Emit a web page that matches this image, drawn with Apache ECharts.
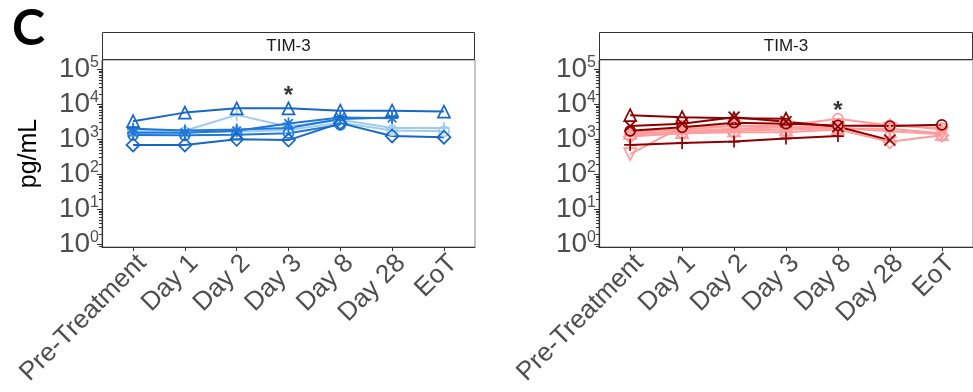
<!DOCTYPE html>
<html><head><meta charset="utf-8">
<script src="https://cdn.jsdelivr.net/npm/echarts@6/dist/echarts.min.js"></script>
<style>html,body{margin:0;padding:0;background:#fff}#c{width:973px;height:392px}</style>
</head><body><div id="c"></div>
<script>
// ---------- data ----------
const categories = ['Pre-Treatment', 'Day 1', 'Day 2', 'Day 3', 'Day 8', 'Day 28', 'EoT'];
const yTickValues = [1, 10, 100, 1000, 10000, 100000];
const panelTitle = 'TIM-3';
const yAxisTitle = 'pg/mL';
const panelLetter = 'C';

// left panel (blue), pg/mL
const blueTriangle    = [3300, 5800, 7700, 7700, 6600, 6600, 6200];
const blueDiamond     = [690, 690, 1000, 950, 2900, 1250, 1150];
const blueCircle      = [1330, 1300, 1350, 1500, 2600, null, null];
const blueStar        = [1550, 1550, 1750, 2850, 4200, 4000, null];
const bluePlus        = [2000, 1800, 1900, 2100, 3800, 4200, null];
const lightBluePlus   = [1900, 1750, 5000, 2300, 3600, 2100, 2100];
const lightBlueCircle = [1650, 1600, 1650, 1850, 3000, 1800, 1700];

// right panel (red), pg/mL
const redTriangle  = [4900, 4300, 4000, 3900, null, null, null];
const redCross     = [2400, 2800, 4300, 3200, 2300, 950, null];
const redCircle    = [1750, 2200, 3000, 2800, 2500, 2400, 2600];
const redPlus      = [690, 780, 860, 1060, 1240, null, null];
const pinkDown     = [380, 2300, 2400, 2200, 2000, 2000, 1500];
const pinkCircle   = [1650, 1900, 2400, 2500, 3900, 2500, 2100];
const pinkDiamond  = [1200, 1500, 1600, 1600, 1900, 850, 1300];
const pinkPlus     = [1350, 1700, 2000, 2200, 2300, 2700, 1900];
const pinkTriangle = [1500, 1600, 1800, 1900, 2100, 1700, 1400];

// significance marks: [category index, pg/mL]
const sigLeft  = [3, 17000];
const sigRight = [4, 6500];

// ---------- styling ----------
const Y_MIN = 0.837, Y_MAX = 185000;
const DARK_BLUE = '#1667c7', MID_BLUE = '#1f78d8', LIGHT_BLUE = '#9ccbf4';
const DARK_RED = '#8e0000', LIGHT_RED = '#ff9c9c';
const SYM = {
  circle:   {symbol: 'circle', size: 10},
  triangle: {symbol: 'triangle', size: 12},
  down:     {symbol: 'triangle', size: 12, rotate: 180},
  diamond:  {symbol: 'diamond', size: 13},
  plus:     {symbol: 'path://M0,5L10,5M5,0L5,10', size: 12},
  cross:    {symbol: 'path://M0,0L10,10M0,10L10,0', size: 11},
  star:     {symbol: 'path://M0,5L10,5M5,0L5,10M1.5,1.5L8.5,8.5M1.5,8.5L8.5,1.5', size: 12}
};
const leftSeries = [
  [lightBlueCircle, 'circle', LIGHT_BLUE],
  [lightBluePlus, 'plus', LIGHT_BLUE],
  [bluePlus, 'plus', MID_BLUE],
  [blueCircle, 'circle', MID_BLUE],
  [blueStar, 'star', MID_BLUE],
  [blueDiamond, 'diamond', DARK_BLUE],
  [blueTriangle, 'triangle', DARK_BLUE]
];
const rightSeries = [
  [pinkDown, 'down', LIGHT_RED],
  [pinkCircle, 'circle', LIGHT_RED],
  [pinkDiamond, 'diamond', LIGHT_RED],
  [pinkPlus, 'plus', LIGHT_RED],
  [pinkTriangle, 'triangle', LIGHT_RED],
  [redPlus, 'plus', DARK_RED],
  [redCircle, 'circle', DARK_RED],
  [redCross, 'cross', DARK_RED],
  [redTriangle, 'triangle', DARK_RED]
];

const FONT = '"Liberation Sans", Arial, sans-serif';
const AX = '#333333', TXT = '#4d4d4d';
const catIdx = categories.map((c, i) => i);
const minorLogs = [];
for (let d = -1; d <= 5; d++) for (let k = 2; k <= 9; k++) minorLogs.push(d + Math.log10(k));

const grids = [
  {left: 102, top: 60, width: 373, height: 187},
  {left: 599, top: 60, width: 374, height: 187}
];

function xAxisFor(g) {
  return {
    type: 'value', gridIndex: g, min: -0.6, max: 6.6,
    axisLine: {show: true, onZero: false, lineStyle: {color: AX, width: 1.2}},
    axisTick: {show: true, customValues: catIdx, length: 4, lineStyle: {color: AX, width: 1}},
    axisLabel: {customValues: catIdx, formatter: v => categories[Math.round(v)], rotate: 45,
      align: 'right', verticalAlign: 'top',
      fontSize: 26, color: TXT, fontFamily: FONT, margin: 3},
    splitLine: {show: false}
  };
}
function yLogFor(g) {
  const a = {
    type: 'log', logBase: 10, gridIndex: g, min: Y_MIN, max: Y_MAX, position: 'left',
    axisLine: {show: true, onZero: false, lineStyle: {color: AX, width: 1.2}},
    axisTick: {show: true, length: 5, lineStyle: {color: AX, width: 1}},
    axisLabel: {
      showMinLabel: false, showMaxLabel: false, margin: 3,
      formatter: v => '{b|10}{s|' + Math.round(Math.log10(v)) + '}',
      rich: {
        b: {fontSize: 28, color: TXT, fontFamily: FONT, lineHeight: 30},
        s: {fontSize: 16, color: TXT, fontFamily: FONT, verticalAlign: 'top', lineHeight: 30, padding: [0, 0, 10, 0]}
      }
    },
    splitLine: {show: false}, minorTick: {show: false}
  };
  if (g === 0) {
    a.name = yAxisTitle; a.nameLocation = 'middle'; a.nameRotate = 90; a.nameGap = 60;
    a.nameTextStyle = {fontSize: 25, color: '#000', fontFamily: FONT};
  }
  return a;
}
function yMinorFor(g) {
  return {
    type: 'value', gridIndex: g, min: Math.log10(Y_MIN), max: Math.log10(Y_MAX), position: 'left', offset: 0,
    axisLine: {show: false, onZero: false},
    axisTick: {show: true, customValues: minorLogs, length: 3, lineStyle: {color: AX, width: 1}},
    axisLabel: {show: false}, splitLine: {show: false}
  };
}

function lineSeries(vals, shape, color, g) {
  const s = SYM[shape];
  return {
    type: 'line', xAxisIndex: g, yAxisIndex: g * 2,
    data: vals.map((v, i) => [i, v]).filter(p => p[1] != null),
    symbol: s.symbol, symbolSize: s.size, symbolRotate: s.rotate || 0, showAllSymbol: true,
    lineStyle: {color: color, width: 2},
    itemStyle: {color: 'rgba(0,0,0,0)', borderColor: color, borderWidth: 1.7},
    emphasis: {disabled: true}, silent: true, animation: false
  };
}
function sigSeries(p, g) {
  return {
    type: 'scatter', xAxisIndex: g, yAxisIndex: g * 2, data: [p], symbolSize: 0,
    label: {show: true, position: 'inside', formatter: '*', fontSize: 24, fontWeight: 'bold', color: '#000', fontFamily: FONT},
    silent: true, animation: false, z: 10
  };
}

const series = [];
leftSeries.forEach(s => series.push(lineSeries(s[0], s[1], s[2], 0)));
rightSeries.forEach(s => series.push(lineSeries(s[0], s[1], s[2], 1)));
series.push(sigSeries(sigLeft, 0), sigSeries(sigRight, 1));

const graphic = [
  {type: 'text', left: 12, top: 4, style: {text: panelLetter, font: 'bold 50px Lato, "Liberation Sans", sans-serif', fill: '#000'}}
];
grids.forEach(gr => {
  graphic.push({type: 'rect', shape: {x: gr.left + 0.5, y: 32.5, width: gr.width - 1, height: 27},
    style: {fill: '#fff', stroke: '#333', lineWidth: 1}});
  graphic.push({type: 'text', x: gr.left + gr.width / 2, y: 46.5,
    style: {text: panelTitle, font: '17px "Liberation Sans", Arial, sans-serif', fill: '#1a1a1a', align: 'center', verticalAlign: 'middle'}});
});

const chart = echarts.init(document.getElementById('c'), null, {renderer: 'canvas'});
chart.setOption({
  animation: false,
  backgroundColor: '#fff',
  grid: grids.map(g => Object.assign({show: true, borderColor: '#8a8a8a', borderWidth: 1, backgroundColor: 'transparent'}, g)),
  xAxis: [xAxisFor(0), xAxisFor(1)],
  yAxis: [yLogFor(0), yMinorFor(0), yLogFor(1), yMinorFor(1)],
  series: series,
  graphic: graphic
});
</script></body></html>
